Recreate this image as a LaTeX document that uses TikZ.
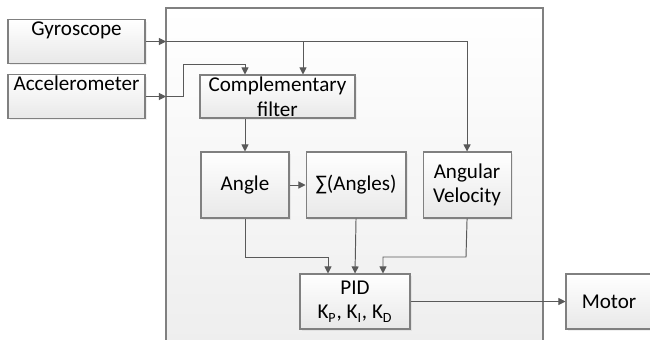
\documentclass[tikz,border=0pt]{standalone}
\usepackage{fontspec}
\setmainfont{Carlito}
\usepackage{tikz}
\usetikzlibrary{arrows.meta,positioning,shadows}
\definecolor{boxline}{HTML}{808080}
\definecolor{arrline}{HTML}{595959}
\tikzset{
  sbox/.style={draw=boxline, line width=0.6pt, top color=white, bottom color=black!9, align=center,
    font=\fontsize{12}{14}\selectfont, inner sep=1.5pt,
    drop shadow={opacity=0.12, shadow xshift=1pt, shadow yshift=-1pt}},
  topbox/.style={sbox, text height=0.26cm, text depth=0.5cm},
  sarr/.style={-{Triangle[length=4pt,width=4pt]}, draw=arrline, line width=0.55pt}
}

\begin{document}
\begin{tikzpicture}[x=0.02cm, y=-0.02cm]
\useasboundingbox (0,0) rectangle (650,339);
\clip (0,0) rectangle (650,339);
% controller frame
\draw[boxline, line width=0.6pt, top color=white, bottom color=black!7] (166,360) -- (166,8) -- (543,8) -- (543,360);
% sensors
\node[topbox, minimum width=2.74cm] (gyro) at (76.5,41.5) {Gyroscope};
\node[topbox, minimum width=2.74cm] (accel) at (76.5,96.5) {Accelerometer};
% processing blocks
\node[sbox, minimum width=3.1cm, minimum height=0.86cm, inner sep=1pt] (filter) at (277.5,96.5) {Complementary\\filter};
\node[sbox, minimum width=1.76cm, minimum height=1.32cm] (angle) at (245,185) {Angle};
\node[sbox, minimum width=2cm, minimum height=1.32cm, right=0.32cm of angle] (sumang) {∑(Angles)};
\node[sbox, minimum width=1.76cm, minimum height=1.32cm, right=0.32cm of sumang] (angvel) {Angular\\Velocity};
\node[sbox, minimum width=2.2cm, minimum height=1.1cm] (pid) at (355,301.5) {PID\\K\textsubscript{P}, K\textsubscript{I}, K\textsubscript{D}};
\node[sbox, minimum width=1.72cm, minimum height=1.1cm] (motor) at (609,301.5) {Motor};
% connectors
\coordinate (gin) at (166,41.5);
\coordinate (ain) at (166,96.5);
\draw[sarr] (gyro.east) -- (gin);
\draw[sarr] (accel.east) -- (ain);
\draw[sarr] (gin) -| (angvel.north);
\draw[sarr] (gin) -| (filter.north -| 303,0);
\draw[sarr] (ain) -- (183,96.5) -- (183,64) -| (filter.north -| 245,0);
\draw[sarr] (filter.south -| angle.north) -- (angle.north);
\draw[sarr] (angle) -- (sumang);
\draw[sarr] (angle.south) -- (245,257) -| (pid.north -| 328,0);
\draw[sarr] (sumang.south) -- (pid.north);
\draw[sarr] (angvel.south) -- (466,257) -| (pid.north -| 383,0);
\draw[sarr] (pid.east) -- (motor.west);
\end{tikzpicture}
\end{document}
